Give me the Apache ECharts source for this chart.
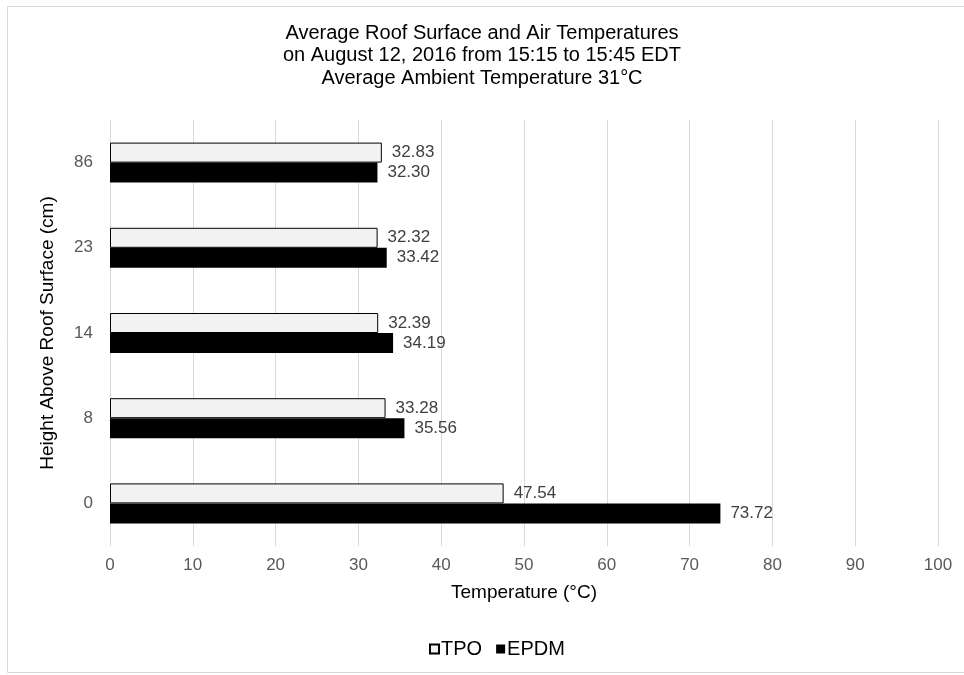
<!DOCTYPE html>
<html>
<head>
<meta charset="utf-8">
<script src="https://cdn.jsdelivr.net/npm/echarts@6/dist/echarts.min.js"></script>
<style>
  html, body { margin: 0; padding: 0; background: #fff; }
  #chart { width: 964px; height: 675px; }
</style>
</head>
<body>
<div id="chart"></div>
<script>
// Heights above the roof surface (cm), bottom to top
const heights = ['0', '8', '14', '23', '86'];
// Average temperatures (°C) over each roof membrane
const tpoTemps = [47.54, 33.28, 32.39, 32.32, 32.83];
const epdmTemps = [73.72, 35.56, 34.19, 33.42, 32.30];
const seriesNames = ['TPO', 'EPDM'];

const FONT = '"Liberation Sans", Arial, sans-serif';

const chart = echarts.init(document.getElementById('chart'), null, { renderer: 'canvas' });

const valueLabel = {
  show: true,
  position: 'right',
  distance: 10,
  color: '#404040',
  fontSize: 17,
  fontFamily: FONT,
  formatter: p => p.value.toFixed(2)
};

chart.setOption({
  backgroundColor: '#fff',
  animation: false,
  graphic: [{
    type: 'rect',
    shape: { x: 7.5, y: 6.5, width: 970, height: 666 },
    style: { fill: 'none', stroke: '#d9d9d9', lineWidth: 1 },
    silent: true
  }],
  title: {
    text: 'Average Roof Surface and Air Temperatures\non August 12, 2016 from 15:15 to 15:45 EDT\nAverage Ambient Temperature 31°C',
    left: 482,
    top: 22,
    padding: 0,
    textAlign: 'center',
    textStyle: {
      fontFamily: FONT,
      fontSize: 20,
      fontWeight: 'normal',
      color: '#000',
      lineHeight: 22.5
    }
  },
  legend: {
    data: seriesNames,
    left: 424,
    top: 634,
    icon: 'rect',
    itemWidth: 9,
    itemHeight: 9,
    itemGap: 14,
    textStyle: { fontFamily: FONT, fontSize: 20, color: '#000', padding: [0, 0, 0, -3] }
  },
  grid: { left: 110, right: 26, top: 120, bottom: 129, containLabel: false },
  xAxis: {
    type: 'value',
    min: 0,
    max: 100,
    interval: 10,
    name: 'Temperature (°C)',
    nameLocation: 'middle',
    nameGap: 37,
    nameTextStyle: { fontFamily: FONT, fontSize: 19, color: '#000' },
    axisLine: { show: false },
    axisTick: { show: false },
    axisLabel: { color: '#595959', fontSize: 17, fontFamily: FONT, margin: 11 },
    splitLine: { show: true, lineStyle: { color: '#d9d9d9', width: 1 } }
  },
  yAxis: {
    type: 'category',
    data: heights,
    name: 'Height Above Roof Surface (cm)',
    nameLocation: 'middle',
    nameRotate: 90,
    nameGap: 53,
    nameTextStyle: { fontFamily: FONT, fontSize: 19, color: '#000' },
    axisLine: { show: false },
    axisTick: { show: false },
    axisLabel: { color: '#595959', fontSize: 17, fontFamily: FONT, margin: 17 },
    splitLine: { show: false }
  },
  series: [
    {
      name: 'TPO',
      type: 'bar',
      data: tpoTemps,
      barWidth: 20,
      barGap: '0%',
      itemStyle: { color: '#f2f2f2', borderColor: '#000', borderWidth: 1 },
      label: valueLabel
    },
    {
      name: 'EPDM',
      type: 'bar',
      data: epdmTemps,
      barWidth: 20,
      barGap: '0%',
      itemStyle: { color: '#000' },
      label: valueLabel
    }
  ]
});
</script>
</body>
</html>
